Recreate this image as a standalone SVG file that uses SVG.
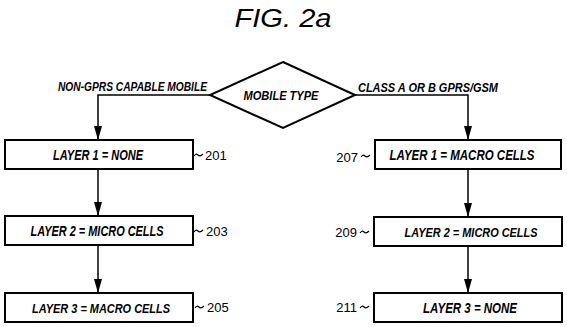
<svg xmlns="http://www.w3.org/2000/svg" width="567" height="327" viewBox="0 0 567 327">
<defs>
<marker id="ah" markerWidth="14" markerHeight="8" refX="13" refY="4" orient="auto" markerUnits="userSpaceOnUse" viewBox="0 0 14 8">
<path d="M0,0 L14,4 L0,8 Z" fill="#000"/>
</marker>
<style>
.box{fill:#fff;stroke:#000;stroke-width:2}
.lbl{font-family:"Liberation Sans",Arial,sans-serif;font-style:italic;font-weight:bold;font-size:14px;fill:#000}
.num{font-family:"Liberation Sans",Arial,sans-serif;font-size:13px;fill:#000}
.wire{fill:none;stroke:#000;stroke-width:1.5}
.tl{fill:none;stroke:#000;stroke-width:1.2}
</style>
</defs>
<rect width="567" height="327" fill="#fff"/>
<text x="283" y="27" textLength="97" lengthAdjust="spacingAndGlyphs" text-anchor="middle" style="font-family:'Liberation Sans',Arial,sans-serif;font-style:italic;font-size:26px">FIG. 2a</text>

<g id="connectors">
<polyline class="wire" points="210,95 98,95 98,139" marker-end="url(#ah)"/>
<polyline class="wire" points="355,95 468,95 468,139" marker-end="url(#ah)"/>
<line class="wire" x1="98" y1="169" x2="98" y2="215" marker-end="url(#ah)"/>
<line class="wire" x1="98" y1="245" x2="98" y2="292" marker-end="url(#ah)"/>
<line class="wire" x1="468" y1="169" x2="468" y2="216" marker-end="url(#ah)"/>
<line class="wire" x1="468" y1="246" x2="468" y2="292" marker-end="url(#ah)"/>
<text class="lbl" x="58" y="91" textLength="149" lengthAdjust="spacingAndGlyphs" style="font-size:13px">NON-GPRS CAPABLE MOBILE</text>
<text class="lbl" x="358" y="92" textLength="140" lengthAdjust="spacingAndGlyphs" style="font-size:12.5px">CLASS A OR B GPRS/GSM</text>
</g>

<g id="decision">
<polygon points="283,62 355,95 283,128 210,95" fill="#fff" stroke="#000" stroke-width="2"/>
<text class="lbl" x="281" y="100" text-anchor="middle" textLength="75" lengthAdjust="spacingAndGlyphs" style="font-size:13px">MOBILE TYPE</text>
</g>

<g id="n201">
<rect class="box" x="5" y="140" width="188" height="29"/>
<text class="lbl" x="98" y="160" text-anchor="middle" textLength="90" lengthAdjust="spacingAndGlyphs">LAYER 1 = NONE</text>
<path class="tl" d="M194,156 q2,-3 4,-1 t5,-1"/>
<text class="num" x="205" y="160">201</text>
</g>
<g id="n203">
<rect class="box" x="5" y="216" width="188" height="29"/>
<text class="lbl" x="97" y="236" text-anchor="middle" textLength="133" lengthAdjust="spacingAndGlyphs">LAYER 2 = MICRO CELLS</text>
<path class="tl" d="M194,232 q2,-3 4,-1 t5,-1"/>
<text class="num" x="206" y="236">203</text>
</g>
<g id="n205">
<rect class="box" x="5" y="293" width="188" height="29"/>
<text class="lbl" x="101" y="312.5" text-anchor="middle" textLength="138" lengthAdjust="spacingAndGlyphs" style="font-size:13.5px">LAYER 3 = MACRO CELLS</text>
<path class="tl" d="M195,308 q2,-3 4,-1 t5,-1"/>
<text class="num" x="207" y="312">205</text>
</g>

<g id="n207">
<rect class="box" x="375" y="140" width="186" height="29"/>
<text class="lbl" x="462" y="160" text-anchor="middle" textLength="145" lengthAdjust="spacingAndGlyphs">LAYER 1 = MACRO CELLS</text>
<path class="tl" d="M361,157 q2,-3 4,-1 t5,-1"/>
<text class="num" x="358" y="162" text-anchor="end">207</text>
</g>
<g id="n209">
<rect class="box" x="374" y="217" width="188" height="29"/>
<text class="lbl" x="471" y="236.5" text-anchor="middle" textLength="133" lengthAdjust="spacingAndGlyphs" style="font-size:13.5px">LAYER 2 = MICRO CELLS</text>
<path class="tl" d="M360,233 q2,-3 4,-1 t5,-1"/>
<text class="num" x="357" y="237" text-anchor="end">209</text>
</g>
<g id="n211">
<rect class="box" x="374" y="293" width="188" height="29"/>
<text class="lbl" x="470" y="312.5" text-anchor="middle" textLength="94" lengthAdjust="spacingAndGlyphs">LAYER 3 = NONE</text>
<path class="tl" d="M360,308 q2,-3 4,-1 t5,-1"/>
<text class="num" x="357" y="312" text-anchor="end">211</text>
</g>
</svg>
